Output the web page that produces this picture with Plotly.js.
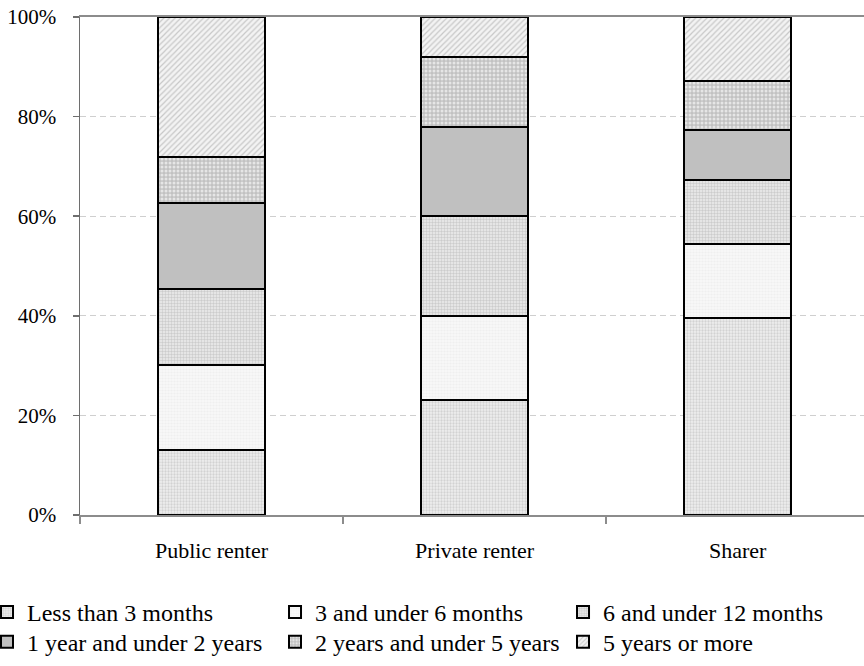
<!DOCTYPE html>
<html>
<head>
<meta charset="utf-8">
<script src="https://cdn.plot.ly/plotly-3.0.1.min.js"></script>
<style>html,body{margin:0;padding:0;background:#fff;}#chart{width:864px;height:666px;}</style>
</head>
<body>
<div id="chart"></div>
<script>
const categories = ["Public renter", "Private renter", "Sharer"];
const seriesNames = ["Less than 3 months", "3 and under 6 months", "6 and under 12 months",
                     "1 year and under 2 years", "2 years and under 5 years", "5 years or more"];
const lessThan3Months   = [13.0, 23.0, 39.5];
const months3to6        = [17.1, 17.0, 14.9];
const months6to12       = [15.2, 20.0, 12.9];
const year1to2          = [17.3, 18.0, 10.0];
const years2to5         = [9.3, 14.0, 9.8];
const years5plus        = [28.1, 8.0, 12.9];
const yTickVals = [0, 20, 40, 60, 80, 100];
const yTickText = ["0%", "20%", "40%", "60%", "80%", "100%"];

const seriesValues = [lessThan3Months, months3to6, months6to12, year1to2, years2to5, years5plus];
const patterns = [
  {shape: ".", fgcolor: "#d2d2d2", bgcolor: "#efefef", size: 3, solidity: 0.45},
  {shape: ".", fgcolor: "#efefef", bgcolor: "#f8f8f8", size: 3, solidity: 0.4},
  {shape: ".", fgcolor: "#cccccc", bgcolor: "#eeeeee", size: 3, solidity: 0.5},
  {shape: "",  fgcolor: "#c0c0c0", bgcolor: "#c0c0c0", size: 4, solidity: 0.5},
  {shape: ".", fgcolor: "#e6e6e6", bgcolor: "#c2c2c2", size: 4, solidity: 0.45},
  {shape: "/", fgcolor: "#c8c8c8", bgcolor: "#f3f3f3", size: 4, solidity: 0.3}
];
const solidColors = ["#e6e6e6", "#f6f6f6", "#e2e2e2", "#c0c0c0", "#cdcdcd", "#e4e4e4"];

const traces = seriesNames.map((name, i) => ({
  type: "bar",
  name: name,
  x: categories,
  y: seriesValues[i],
  width: 0.405,
  legend: i < 3 ? "legend" : "legend2",
  marker: {
    color: solidColors[i],
    line: {color: "#000", width: 2},
    pattern: patterns[i].shape ? Object.assign({fillmode: "replace"}, patterns[i]) : undefined
  },
  hoverinfo: "x+y+name"
}));

const font = '"Liberation Serif", "Times New Roman", serif';
const legendBase = {
  orientation: "h",
  x: -0.1186, xanchor: "left",
  yanchor: "top",
  entrywidth: 243, entrywidthmode: "pixels",
  traceorder: "normal",
  font: {family: font, size: 24, color: "#000"},
  itemwidth: 30,
  bgcolor: "rgba(0,0,0,0)",
  tracegroupgap: 0
};
const layout = {
  width: 864, height: 666,
  margin: {l: 80, r: 0, t: 17, b: 151, autoexpand: false},
  barmode: "stack",
  paper_bgcolor: "#fff",
  plot_bgcolor: "#fff",
  font: {family: font, color: "#000", size: 21},
  showlegend: true,
  legend: Object.assign({}, legendBase, {y: -0.1506}),
  legend2: Object.assign({}, legendBase, {y: -0.2100}),
  xaxis: {
    type: "category",
    range: [-0.5, 2.48],
    showline: true, linecolor: "#8c8c8c", linewidth: 2,
    mirror: true,
    ticks: "outside", tickson: "boundaries", ticklen: 7, tickcolor: "#8c8c8c", tickwidth: 2,
    ticklabelstandoff: 15,
    tickfont: {family: font, size: 22, color: "#000"},
    showgrid: false, zeroline: false, fixedrange: true
  },
  yaxis: {
    range: [0, 100],
    tickvals: yTickVals, ticktext: yTickText,
    showline: true, linecolor: "#6e6e6e", linewidth: 1.5,
    ticks: "outside", ticklen: 6, tickcolor: "#6e6e6e", tickwidth: 1.5,
    ticklabelstandoff: 12,
    tickfont: {family: font, size: 21, color: "#000"},
    showgrid: true, gridcolor: "#cfcfcf", gridwidth: 1, griddash: "6px,4px",
    zeroline: false, fixedrange: true
  }
};

Plotly.newPlot("chart", traces, layout, {displayModeBar: false, staticPlot: true});
</script>
</body>
</html>
